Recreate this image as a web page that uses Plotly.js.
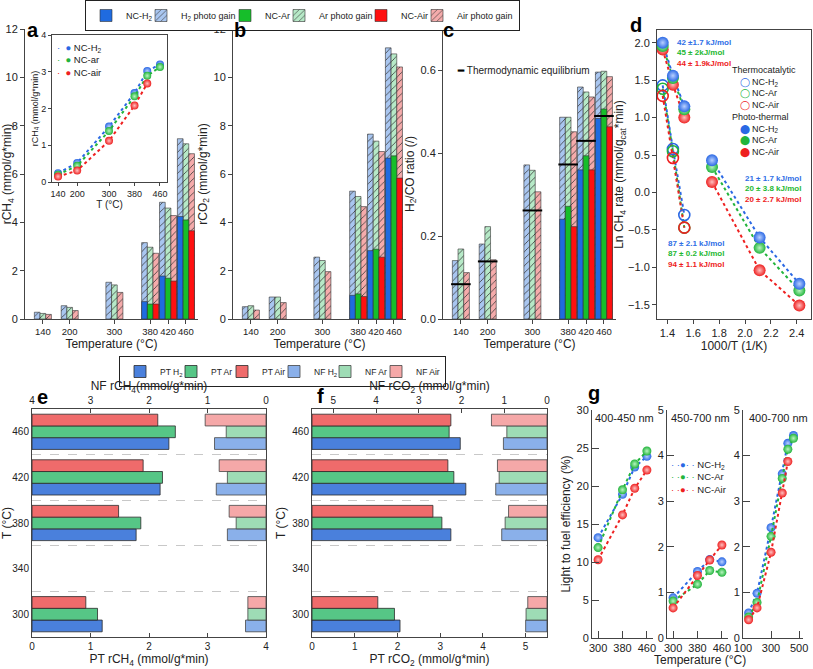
<!DOCTYPE html>
<html><head><meta charset="utf-8">
<script src="https://cdn.plot.ly/plotly-3.0.1.min.js"></script>
<style>html,body{margin:0;padding:0;background:#fff}</style>
</head><body><div id="chart" style="width:813px;height:669px"></div>
<script>
// ---------------- DATA ----------------
const temps = [140, 200, 300, 380, 420, 460];
// panel a: rCH4 (mmol/g*min) total (thermal + photo gain) and thermal only
const ch4TotH2 = [0.28, 0.55, 1.52, 3.16, 4.83, 7.46];
const ch4TotAr = [0.23, 0.48, 1.41, 2.97, 4.59, 7.25];
const ch4TotAir = [0.19, 0.35, 1.10, 2.72, 4.28, 6.84];
const ch4ThH2 = [null, null, null, 0.72, 1.78, 4.24];
const ch4ThAr = [null, null, null, 0.62, 1.69, 4.10];
const ch4ThAir = [null, null, null, 0.62, 1.57, 3.65];
// panel b: rCO2
const co2TotH2 = [0.51, 0.91, 2.56, 5.29, 7.65, 11.22];
const co2TotAr = [0.55, 0.91, 2.42, 5.07, 7.36, 10.97];
const co2TotAir = [0.37, 0.68, 1.96, 4.65, 6.93, 10.43];
const co2ThH2 = [null, null, null, 0.98, 2.83, 6.66];
const co2ThAr = [null, null, null, 1.04, 2.89, 6.75];
const co2ThAir = [null, null, null, 0.93, 2.56, 5.83];
// panel c: H2/CO ratio
const ratTotH2 = [0.141, 0.181, 0.372, 0.487, 0.560, 0.596];
const ratTotAr = [0.169, 0.223, 0.359, 0.487, 0.548, 0.598];
const ratTotAir = [0.112, 0.143, 0.307, 0.452, 0.536, 0.585];
const ratThH2 = [null, null, null, 0.241, 0.360, 0.484];
const ratThAr = [null, null, null, 0.272, 0.394, 0.507];
const ratThAir = [null, null, null, 0.223, 0.360, 0.464];
const ratEq = [0.084, 0.139, 0.262, 0.373, 0.430, 0.490];
// inset of a: rCH4 thermocatalytic
const insetTicks = [140, 200, 300, 380, 460];
const insetH2 = [0.24, 0.52, 1.51, 2.42, 3.02, 3.20];
const insetAr = [0.20, 0.44, 1.39, 2.33, 2.89, 3.13];
const insetAir = [0.15, 0.31, 1.12, 2.08, 2.68, null];
// panel d: Arrhenius
const invT = [1.364, 1.443, 1.531, 1.745, 2.113, 2.420];
const invTth = [1.364, 1.443, 1.531];
const lnPtH2 = [2.00, 1.56, 1.15, 0.43, -0.60, -1.22];
const lnPtAr = [1.955, 1.53, 1.11, 0.34, -0.74, -1.31];
const lnPtAir = [1.91, 1.44, 1.00, 0.14, -1.04, -1.51];
const lnThH2 = [1.43, 0.58, -0.30];
const lnThAr = [1.385, 0.55, -0.47];
const lnThAir = [1.29, 0.46, -0.47];
const topTemps = [460, 380, 300, 250, 200, 150];
const eaHigh = ['42 ±1.7 kJ/mol', '45 ± 2kJ/mol', '44 ± 1.9kJ/mol'];
const eaLow = ['21 ± 1.7 kJ/mol', '20 ± 3.8 kJ/mol', '20 ± 2.7 kJ/mol'];
const eaTherm = ['87 ± 2.1 kJ/mol', '87 ± 0.2 kJ/mol', '94 ± 1.1 kJ/mol'];
// panel e / f
const eTemps = [300, 380, 420, 460];
const ptCh4H2 = [1.20, 1.78, 2.19, 2.34];
const ptCh4Ar = [1.12, 1.86, 2.23, 2.45];
const ptCh4Air = [0.92, 1.48, 1.90, 2.15];
const nfCh4H2 = [0.35, 0.66, 0.85, 0.88];
const nfCh4Ar = [0.31, 0.51, 0.66, 0.68];
const nfCh4Air = [0.31, 0.63, 0.80, 1.04];
const ptCo2H2 = [2.06, 3.25, 3.60, 3.47];
const ptCo2Ar = [1.93, 3.04, 3.32, 3.21];
const ptCo2Air = [1.54, 2.83, 3.18, 3.25];
const nfCo2H2 = [0.50, 1.06, 1.20, 1.02];
const nfCo2Ar = [0.49, 0.98, 1.12, 0.94];
const nfCo2Air = [0.45, 0.90, 1.16, 1.30];
// panel g: light to fuel efficiency (%)
const gT1 = [300, 380, 420, 460];
const g1H2 = [13.2, 18.9, 22.5, 23.9];
const g1Ar = [11.9, 19.5, 22.9, 24.6];
const g1Air = [10.3, 16.2, 19.7, 22.1];
const g2H2 = [0.88, 1.46, 1.72, 1.67];
const g2Ar = [0.81, 1.18, 1.48, 1.44];
const g2Air = [0.66, 1.37, 1.71, 2.04];
const gT3 = [140, 200, 300, 380, 420, 460];
const g3H2 = [0.55, 0.98, 2.42, 3.60, 4.27, 4.44];
const g3Ar = [0.46, 0.78, 2.23, 3.50, 4.14, 4.38];
const g3Air = [0.40, 0.66, 1.88, 3.18, 3.87, null];

// ---------------- STYLE / LAYOUT ----------------
const W = 813, H = 669;
const dx = (a, b) => [a / W, b / W];
const dy = (t, b) => [1 - b / H, 1 - t / H];
const FONT = 'Arial, "Liberation Sans", sans-serif';
const SER = ['H2', 'Ar', 'Air'];
const LAB = {H2: 'H<sub>2</sub>', Ar: 'Ar', Air: 'Air'};
const COL = {
  H2: {solid: '#1f6be0', light: '#a9c6f0', pt: '#4a80dc', nf: '#8ab0ea', dot: '#2a68e4', glow: '#b8d0ff'},
  Ar: {solid: '#16be2a', light: '#b6e9c7', pt: '#56c686', nf: '#9edcb5', dot: '#22b43c', glow: '#b8f5c0'},
  Air: {solid: '#ff1010', light: '#f5abab', pt: '#ef6b6b', nf: '#f5a8a8', dot: '#ee2020', glow: '#ffc0c0'}
};
const KC = {H2: '#2e6ee6', Ar: '#1db832', Air: '#ee1c1c'};
// legend entry widths (px) so the compact legends resemble the original
const LW_TOP = {H2: [10, 39], Ar: [9, 37], Air: [11, 57]};
const LW_MID = {PT: [6, 6, 7], NF: [6, 6, 24]};
const OFF = {H2: -19.05, Ar: -6.35, Air: 6.35};
const BW = 12.7;
const HOFF = {H2: -15.45, Ar: -5.15, Air: 5.15};
const HBW = 10.3;
const traces = [];

function groupBars(xa, ya, tot, th, leg) {
  SER.forEach((s, i) => traces.push({
    type: 'bar', x: temps, y: tot[i], xaxis: xa, yaxis: ya, width: BW, offset: OFF[s],
    name: LAB[s] + ' photo gain', showlegend: leg, legendrank: 2 * i + 2, legendwidth: LW_TOP[s][1], hoverinfo: 'skip',
    marker: {color: COL[s].light, line: {color: '#333', width: 0.6},
      pattern: {shape: '/', fgcolor: '#3a3a3a', bgcolor: COL[s].light, size: 5, solidity: 0.16}}
  }));
  SER.forEach((s, i) => traces.push({
    type: 'bar', x: temps, y: th[i], xaxis: xa, yaxis: ya, width: BW, offset: OFF[s],
    name: 'NC-' + LAB[s], showlegend: leg, legendrank: 2 * i + 1, legendwidth: LW_TOP[s][0], hoverinfo: 'skip',
    marker: {color: COL[s].solid, line: {color: '#333', width: 0.6}}
  }));
}
groupBars('x', 'y', [ch4TotH2, ch4TotAr, ch4TotAir], [ch4ThH2, ch4ThAr, ch4ThAir], true);
groupBars('x3', 'y3', [co2TotH2, co2TotAr, co2TotAir], [co2ThH2, co2ThAr, co2ThAir], false);
groupBars('x4', 'y4', [ratTotH2, ratTotAr, ratTotAir], [ratThH2, ratThAr, ratThAir], false);
traces.push({type: 'scatter', mode: 'markers', x: temps, y: ratEq, xaxis: 'x4', yaxis: 'y4', showlegend: false,
  marker: {symbol: 'line-ew', size: 14, color: '#000', line: {width: 2, color: '#000'}}, hoverinfo: 'skip'});

function sphere(s, size) {
  return {color: COL[s].dot, size: size, gradient: {type: 'radial', color: COL[s].glow}, line: {width: 0}};
}
function dotted(xa, ya, x, y, s, msize) {
  const tr = {type: 'scatter', mode: msize ? 'lines+markers' : 'lines', x: x, y: y, xaxis: xa, yaxis: ya,
    showlegend: false, hoverinfo: 'skip', connectgaps: false,
    line: {dash: 'dot', width: 2, color: COL[s].dot}};
  if (msize) tr.marker = sphere(s, msize);
  traces.push(tr);
}
// inset
[[insetH2, 'H2'], [insetAr, 'Ar'], [insetAir, 'Air']].forEach(([y, s]) => dotted('x2', 'y2', temps, y, s, 8));

// panel d
[[lnThH2, 'H2'], [lnThAr, 'Ar'], [lnThAir, 'Air']].forEach(([y, s]) => {
  dotted('x5', 'y5', invTth, y, s, 0);
});
[[lnPtH2, 'H2'], [lnPtAr, 'Ar'], [lnPtAir, 'Air']].forEach(([y, s]) => {
  dotted('x5', 'y5', invT.slice(0, 3), y.slice(0, 3), s, 0);
  dotted('x5', 'y5', invT.slice(3), y.slice(3), s, 0);
});
[[lnThH2, 'H2'], [lnThAr, 'Ar'], [lnThAir, 'Air']].forEach(([y, s]) => traces.push({
  type: 'scatter', mode: 'markers', x: invTth, y: y, xaxis: 'x5', yaxis: 'y5', showlegend: false, hoverinfo: 'skip',
  marker: {symbol: 'circle-open', size: 11, color: COL[s].dot, line: {width: 1.6, color: COL[s].dot}}
}));
[[lnPtH2, 'H2'], [lnPtAr, 'Ar'], [lnPtAir, 'Air']].slice().reverse().forEach(([y, s]) => traces.push({
  type: 'scatter', mode: 'markers', x: invT, y: y, xaxis: 'x5', yaxis: 'y5', showlegend: false, hoverinfo: 'skip',
  marker: sphere(s, 12)
}));

// panel e / f
function hbars(xaPT, xaNF, ya, pt, nf, leg) {
  SER.forEach((s, i) => traces.push({
    type: 'bar', orientation: 'h', x: pt[i], y: eTemps, xaxis: xaPT, yaxis: ya, width: HBW, offset: HOFF[s],
    name: 'PT ' + LAB[s], legend: 'legend2', showlegend: leg, legendwidth: LW_MID.PT[i], hoverinfo: 'skip',
    marker: {color: COL[s].pt, line: {color: '#2a2a2a', width: 0.8}}
  }));
  SER.forEach((s, i) => traces.push({
    type: 'bar', orientation: 'h', x: nf[i], y: eTemps, xaxis: xaNF, yaxis: ya, width: HBW, offset: HOFF[s],
    name: 'NF ' + LAB[s], legend: 'legend2', showlegend: leg, legendwidth: LW_MID.NF[i], hoverinfo: 'skip',
    marker: {color: COL[s].nf, line: {color: '#444', width: 0.8}}
  }));
}
hbars('x7', 'x8', 'y7', [ptCh4H2, ptCh4Ar, ptCh4Air], [nfCh4H2, nfCh4Ar, nfCh4Air], true);
hbars('x9', 'x10', 'y9', [ptCo2H2, ptCo2Ar, ptCo2Air], [nfCo2H2, nfCo2Ar, nfCo2Air], false);

// panel g
[[g1H2, 'H2'], [g1Ar, 'Ar'], [g1Air, 'Air']].forEach(([y, s]) => dotted('x11', 'y11', gT1, y, s, 9));
[[g2H2, 'H2'], [g2Ar, 'Ar'], [g2Air, 'Air']].forEach(([y, s]) => dotted('x12', 'y12', gT1, y, s, 9));
[[g3H2, 'H2'], [g3Ar, 'Ar'], [g3Air, 'Air']].forEach(([y, s]) => dotted('x13', 'y13', gT3, y, s, 9));

const ax = (o) => Object.assign({showline: true, linecolor: '#444', linewidth: 1, ticks: 'outside', ticklen: 4,
  tickwidth: 1, tickcolor: '#444', showgrid: false, zeroline: false, automargin: false, fixedrange: true,
  tickangle: 0, tickfont: {size: 11, color: '#222'}}, o);
const t = (text, size, standoff) => ({text: text, font: {size: size, color: '#222'}, standoff: standoff});
const tf10 = {size: 10, color: '#222'};
const tfT = {size: 9.5, color: '#222'};

const layout = {
  width: W, height: H, margin: {l: 0, r: 0, t: 0, b: 0, pad: 0},
  paper_bgcolor: '#ffffff', plot_bgcolor: '#ffffff', barmode: 'overlay', hovermode: false,
  font: {family: FONT, size: 11, color: '#222'},
  legend: {orientation: 'h', x: 85 / W, xanchor: 'left', y: 1, yanchor: 'top', bordercolor: '#222', borderwidth: 1,
    font: {size: 9}, itemwidth: 30, traceorder: 'normal', bgcolor: '#fff'},
  legend2: {orientation: 'h', x: 119 / W, xanchor: 'left', y: 1 - 356 / H, yanchor: 'top', bordercolor: '#222',
    borderwidth: 1, font: {size: 8.5}, itemwidth: 30, traceorder: 'normal', bgcolor: '#fff'},
  // a
  xaxis: ax({domain: dx(25, 198), anchor: 'y', range: [100, 487], tickvals: temps, ticktext: temps.map(String),
    tickfont: tfT, title: t('Temperature (°C)', 12, 1)}),
  yaxis: ax({domain: dy(29, 319), anchor: 'x', range: [0, 12], dtick: 2, title: t('rCH<sub>4</sub> (mmol/g*min)', 12, 3)}),
  // inset
  xaxis2: ax({domain: dx(52, 167), anchor: 'y2', range: [121, 482], tickvals: insetTicks, ticktext: insetTicks.map(String),
    mirror: true, ticklen: 3, tickfont: {size: 9, color: '#222'}, title: t('T (°C)', 10, 1)}),
  yaxis2: ax({domain: dy(35, 182), anchor: 'x2', range: [0, 4], dtick: 1, mirror: true, ticklen: 3,
    tickfont: {size: 9, color: '#222'}, title: t('rCH<sub>4</sub> (mmol/g*min)', 9, 1)}),
  // b
  xaxis3: ax({domain: dx(233, 406), anchor: 'y3', range: [100, 487], tickvals: temps, ticktext: temps.map(String),
    tickfont: tfT, title: t('Temperature (°C)', 12, 1)}),
  yaxis3: ax({domain: dy(29, 319), anchor: 'x3', range: [0, 12], dtick: 2, title: t('rCO<sub>2</sub> (mmol/g*min)', 12, 3)}),
  // c
  xaxis4: ax({domain: dx(443, 616), anchor: 'y4', range: [100, 487], tickvals: temps, ticktext: temps.map(String),
    tickfont: tfT, title: t('Temperature (°C)', 12, 1)}),
  yaxis4: ax({domain: dy(29, 319), anchor: 'x4', range: [0, 0.7], tick0: 0, dtick: 0.2, tickformat: '.1f',
    title: t('H<sub>2</sub>/CO ratio (/)', 12, 3)}),
  // d
  xaxis5: ax({domain: dx(657, 811), anchor: 'y5', range: [1.32, 2.51], tick0: 1.4, dtick: 0.2, tickformat: '.1f',
    mirror: true, title: t('1000/T (1/K)', 12, 2)}),
  xaxis6: ax({overlaying: 'x5', anchor: 'y5', side: 'top', range: [1.32, 2.51], tickmode: 'array',
    tickvals: topTemps.map(v => 1000 / (v + 273.15)), ticktext: topTemps.map(String), title: t('Temperature (°C)', 12, 2)}),
  yaxis5: ax({domain: dy(30, 319), anchor: 'x5', range: [-1.69, 2.17], tick0: -1.5, dtick: 0.5, tickformat: '.1f',
    mirror: true, title: t('Ln CH<sub>4</sub> rate (mmol/g<sub>cat</sub>*min)', 12, 1)}),
  // e
  xaxis7: ax({domain: dx(32, 266), anchor: 'y7', range: [0, 4], dtick: 1, ticks: 'inside', tickfont: tf10,
    title: t('PT rCH<sub>4</sub> (mmol/g*min)', 12, 2)}),
  xaxis8: ax({overlaying: 'x7', anchor: 'y7', side: 'top', range: [4, 0], dtick: 1, ticks: 'inside', tickfont: tf10,
    title: t('NF rCH<sub>4</sub>(mmol/g*min)', 12, 1)}),
  yaxis7: ax({domain: dy(409, 637), anchor: 'x7', range: [280, 480], tick0: 300, dtick: 40, ticks: '', mirror: true,
    tickfont: tf10, title: t('T (°C)', 12, 4),
    minor: {tick0: 300, dtick: 20, showgrid: true, gridcolor: '#c8c8c8', griddash: 'dash', gridwidth: 1, ticks: ''}}),
  // f
  xaxis9: ax({domain: dx(312, 547), anchor: 'y9', range: [0, 5.5], dtick: 1, ticks: 'inside', tickfont: tf10,
    title: t('PT rCO<sub>2</sub> (mmol/g*min)', 12, 2)}),
  xaxis10: ax({overlaying: 'x9', anchor: 'y9', side: 'top', range: [5.5, 0], dtick: 1, ticks: 'inside', tickfont: tf10,
    title: t('NF rCO<sub>2</sub> (mmol/g*min)', 12, 1)}),
  yaxis9: ax({domain: dy(409, 637), anchor: 'x9', range: [280, 480], tick0: 300, dtick: 40, ticks: '', mirror: true,
    tickfont: tf10, title: t('T (°C)', 12, 4),
    minor: {tick0: 300, dtick: 20, showgrid: true, gridcolor: '#c8c8c8', griddash: 'dash', gridwidth: 1, ticks: ''}}),
  // g
  xaxis11: ax({domain: dx(592, 653), anchor: 'y11', range: [280, 480], tickvals: gT1.filter(v => v !== 420), ticks: 'inside', ticklen: 7}),
  yaxis11: ax({domain: dy(410, 638), anchor: 'x11', range: [0, 30], dtick: 5, ticks: 'inside', ticklen: 7,
    title: t('Light to fuel efficiency (%)', 12, 3)}),
  xaxis12: ax({domain: dx(667, 728), anchor: 'y12', range: [280, 480], tickvals: gT1.filter(v => v !== 420), ticks: 'inside', ticklen: 7}),
  yaxis12: ax({domain: dy(410, 638), anchor: 'x12', range: [0, 5], dtick: 1, ticks: 'inside', ticklen: 7}),
  xaxis13: ax({domain: dx(743, 803), anchor: 'y13', range: [100, 528], tickvals: [100, 300, 500], ticks: 'inside', ticklen: 7}),
  yaxis13: ax({domain: dy(410, 638), anchor: 'x13', range: [0, 5], dtick: 1, ticks: 'inside', ticklen: 7}),
  annotations: []
};

const A = layout.annotations;
function ann(text, x, y, o) {
  A.push(Object.assign({text: text, xref: 'paper', yref: 'paper', x: x / W, y: 1 - y / H, showarrow: false,
    xanchor: 'left', yanchor: 'middle', align: 'left', font: {size: 10, color: '#222'}}, o || {}));
}
const sp = (c, txt) => '<span style="color:' + c + '">' + txt + '</span>';
const NB = '\u00a0';
// panel letters
[['a', 33, 30], ['b', 240, 30], ['c', 449, 30], ['d', 636, 25], ['e', 42, 397], ['f', 320, 396], ['g', 594, 393]]
  .forEach(([l, x, y]) => ann('<b>' + l + '</b>', x, y, {xanchor: 'center', font: {size: 20, color: '#000'}}));
// c legend
ann(sp('#000', '<b>━</b>') + NB + 'Thermodynamic equilibrium', 455, 70, {font: {size: 10, color: '#222'}});
// d activation energies (one multi-line label per group)
const eaBlock = (arr) => arr.map((s, i) => sp(KC[SER[i]], '<b>' + s + '</b>')).join('<br>');
ann(eaBlock(eaHigh), 675, 36, {yanchor: 'top', font: {size: 8, color: '#222'}});
ann(eaBlock(eaLow), 743, 172, {yanchor: 'top', font: {size: 8, color: '#222'}});
ann(eaBlock(eaTherm), 666, 237, {yanchor: 'top', font: {size: 8, color: '#222'}});
// d legend
const dLeg = ['Thermocatalytic']
  .concat(SER.map(s => NB + NB + NB + sp(COL[s].dot, '◯') + NB + 'NC-' + LAB[s]))
  .concat(['Photo-thermal'])
  .concat(SER.map(s => NB + NB + NB + sp(COL[s].dot, '⬤') + NB + 'NC-' + LAB[s]));
ann(dLeg.join('<br>'), 730, 63, {yanchor: 'top', font: {size: 9, color: '#222'}});
// inset legend
const inLab = {H2: 'NC-H<sub>2</sub>', Ar: 'NC-ar', Air: 'NC-air'};
ann(SER.map(s => sp(COL[s].dot, '·' + NB + NB + '●') + NB + inLab[s]).join('<br>'), 55, 40,
  {yanchor: 'top', font: {size: 9.5, color: '#222'}});
// g legend and titles
ann(SER.map(s => sp(COL[s].dot, '· ·●· ·') + NB + 'NC-' + LAB[s]).join('<br>'), 669, 457,
  {yanchor: 'top', font: {size: 9.5, color: '#222'}});
[['400-450 nm', 624], ['450-700 nm', 700], ['400-700 nm', 778]].forEach(([s, x]) =>
  ann(s, x, 418, {xanchor: 'center', font: {size: 11, color: '#222'}}));
ann('Temperature (°C)', 700, 660, {xanchor: 'center', font: {size: 12, color: '#222'}});

Plotly.newPlot('chart', traces, layout, {displayModeBar: false, staticPlot: true});
</script></body></html>
